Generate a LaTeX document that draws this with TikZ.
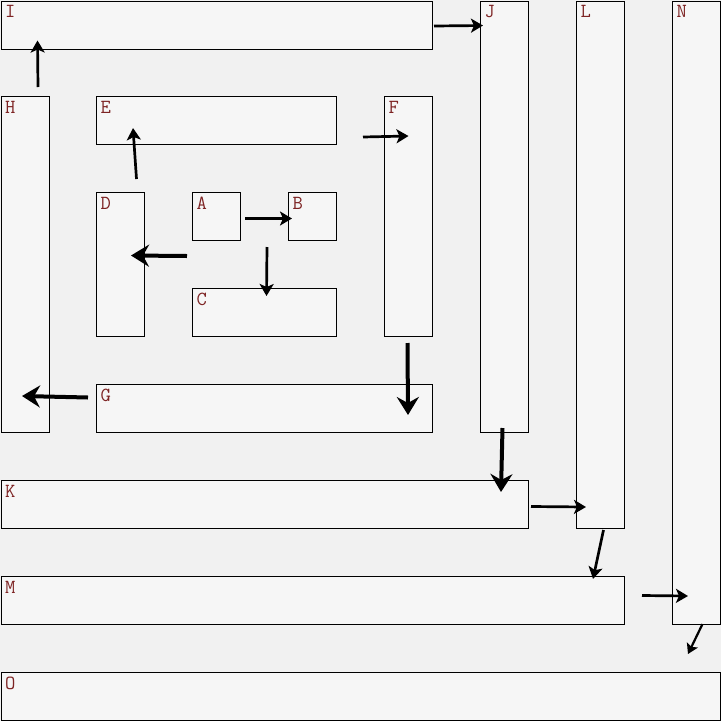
\documentclass[tikz,border=0pt]{standalone}
\usetikzlibrary{arrows.meta}
\definecolor{bgc}{HTML}{F1F1F1}
\definecolor{boxc}{HTML}{F6F6F6}
\definecolor{labc}{RGB}{125,35,35}
\tikzset{
  box/.style={draw=black, line width=1pt, fill=boxc, rectangle, anchor=north west, inner sep=0pt,
    label={[anchor=north west, inner sep=0pt, text=labc, font=\ttfamily\fontsize{20}{20}\selectfont, xshift=4.5pt, yshift=-5pt]north west:#1}},
  thinarr/.style={line width=2.7pt, -{Stealth[length=12pt, width=14pt, inset=3pt]}},
  thickarr/.style={line width=4pt, -{Stealth[length=18pt, width=22pt, inset=6pt]}},
}
\begin{document}
\begin{tikzpicture}[x=1pt,y=-1pt]
\fill[bgc] (0,0) rectangle (721,721);
\useasboundingbox (0,0) rectangle (721,721);
\node[box=A, minimum width=48pt, minimum height=48pt] (A) at (192,192) {};
\node[box=B, minimum width=48pt, minimum height=48pt] (B) at (288,192) {};
\node[box=C, minimum width=144pt, minimum height=48pt] (C) at (192,288) {};
\node[box=D, minimum width=48pt, minimum height=144pt] (D) at (96,192) {};
\node[box=E, minimum width=240pt, minimum height=48pt] (E) at (96,96) {};
\node[box=F, minimum width=48pt, minimum height=240pt] (F) at (384,96) {};
\node[box=G, minimum width=336pt, minimum height=48pt] (G) at (96,384) {};
\node[box=H, minimum width=48pt, minimum height=336pt] (H) at (0.5,96) {};
\node[box=I, minimum width=431.5pt, minimum height=48pt] (I) at (0.5,0.5) {};
\node[box=J, minimum width=48pt, minimum height=431.5pt] (J) at (480,0.5) {};
\node[box=K, minimum width=527.5pt, minimum height=48pt] (K) at (0.5,480) {};
\node[box=L, minimum width=48pt, minimum height=527.5pt] (L) at (576,0.5) {};
\node[box=M, minimum width=623.5pt, minimum height=48pt] (M) at (0.5,576) {};
\node[box=N, minimum width=48pt, minimum height=623.5pt] (N) at (672,0.5) {};
\node[box=O, minimum width=719.5pt, minimum height=48pt] (O) at (0.5,672) {};

\draw[thinarr] ([shift={(4,2)}]A.east) -- ([shift={(4,2)}]B.west);
\draw[thinarr] ([shift={(26,6)}]A.south east) -- ([shift={(2,8)}]C.north);
\draw[thickarr] ([shift={(-5,15)}]A.south west) -- ([shift={(-14,-9)}]D.east);
\draw[thinarr] ([shift={(16,-13)}]D.north) -- ([shift={(37,-17)}]E.south west);
\draw[thinarr] ([shift={(26,-8)}]E.south east) -- ([shift={(0,40)}]F.north);
\draw[thickarr] ([shift={(-1,6)}]F.south) -- ([shift={(-25,-18)}]G.south east);
\draw[thickarr] ([shift={(-8,-11)}]G.west) -- ([shift={(-3,-37)}]H.south);
\draw[thinarr] ([shift={(13,-9)}]H.north) -- ([shift={(37,-9)}]I.south west);
\draw[thinarr] ([shift={(1,1)}]I.east) -- ([shift={(3,25)}]J.north west);
\draw[thickarr] ([shift={(-2,-5)}]J.south) -- ([shift={(-28,-37)}]K.south east);
\draw[thinarr] ([shift={(2,2)}]K.east) -- ([shift={(10,-22)}]L.south west);
\draw[thinarr] ([shift={(3,1)}]L.south) -- ([shift={(-32,3)}]M.north east);
\draw[thinarr] ([shift={(17,-5)}]M.east) -- ([shift={(16,-29)}]N.south west);
\draw[line width=2.2pt, -{Stealth[length=10pt, width=12pt, inset=2pt]}] ([shift={(6,-1)}]N.south) -- ([shift={(-33,-18)}]O.north east);
\end{tikzpicture}
\end{document}
